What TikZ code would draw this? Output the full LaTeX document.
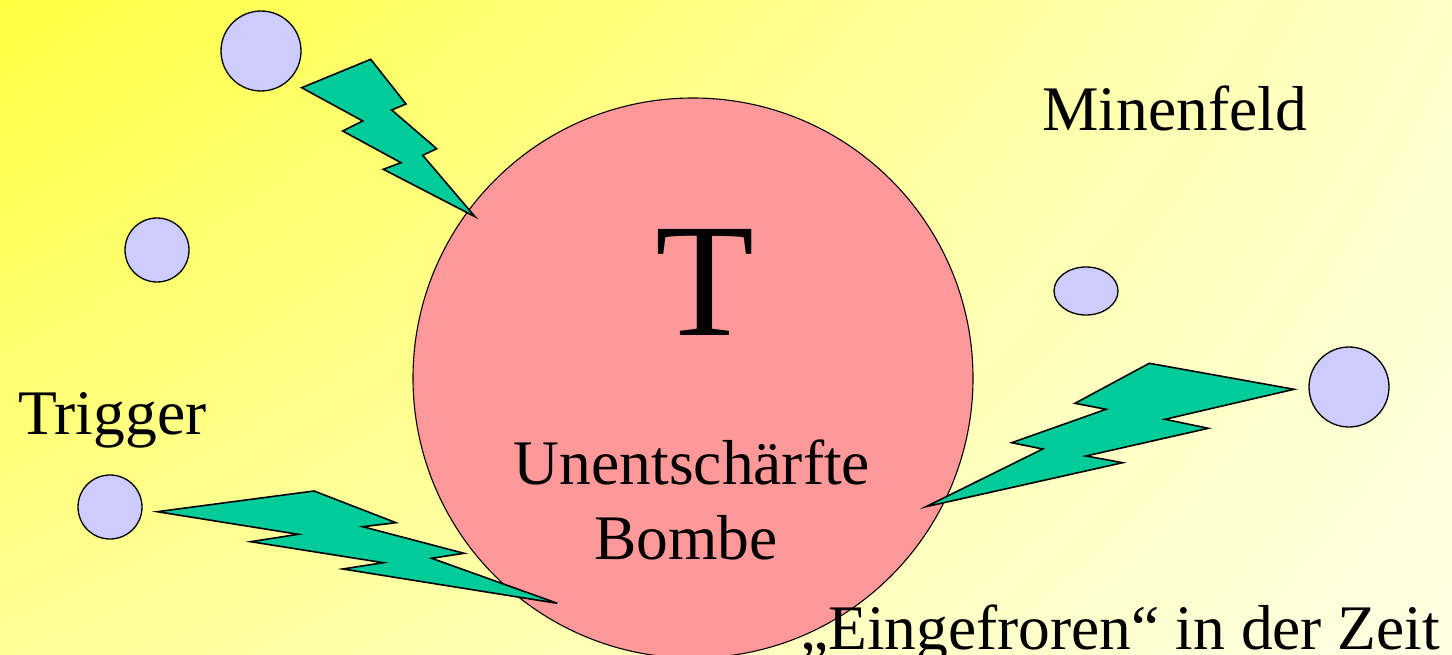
\documentclass[tikz,border=0pt]{standalone}
\usepackage{fontspec}
\usetikzlibrary{shadings}
\setmainfont{Liberation Serif}
\definecolor{bgA}{RGB}{255,255,64}
\definecolor{bgB}{RGB}{255,255,200}
\definecolor{bgC}{RGB}{255,255,150}
\definecolor{bgD}{RGB}{255,255,228}
\definecolor{boltgreen}{RGB}{0,204,153}
\definecolor{bombpink}{RGB}{255,153,153}
\definecolor{minelilac}{RGB}{204,204,255}
\tikzset{
  bolt/.style={fill=boltgreen, draw=black, line width=1.6pt, line join=miter},
  mine/.style={fill=minelilac, draw=black, line width=1.3pt},
  bomb/.style={fill=bombpink, draw=black, line width=1.1pt},
  lbl/.style={inner sep=0pt, font=\fontsize{63.5}{70}\selectfont},
}
\begin{document}
\begin{tikzpicture}[x=1pt,y=-1pt]
\useasboundingbox (0,0) rectangle (1452,655);
\shade[upper left=bgA, upper right=bgB, lower left=bgC, lower right=bgD] (0,0) rectangle (1452,655);
% bomb
\draw[bomb] (693,378) circle[radius=280];
% mines
\draw[mine] (261,51) circle[radius=40];
\draw[mine] (157,250) circle[radius=32];
\draw[mine] (1086,291) ellipse[x radius=32, y radius=24];
\draw[mine] (1349,387) circle[radius=40];
\draw[mine] (110,507) circle[radius=32];
% bolts
\draw[bolt] (301.7,87.7) -- (370.7,59.3) -- (406,104) -- (391.7,110) -- (436.7,148.7) -- (422.7,155.3) -- (475,216.7) -- (383.3,169.3) -- (401,162.7) -- (342.7,131) -- (362.7,121) -- cycle;
\draw[bolt] (157.3,511.7) -- (314,491) -- (396,522.7) -- (362.7,526.7) -- (464,553.3) -- (431.7,558.3) -- (557.3,603.3) -- (342.7,569) -- (383.3,562.7) -- (250.7,541.7) -- (298.3,534.3) -- cycle;
\draw[bolt] (926,506.7) -- (1042.7,449) -- (1011.7,442.7) -- (1106,409.3) -- (1075,403.3) -- (1149.3,363.3) -- (1294,389.3) -- (1165,419.3) -- (1208.3,428.3) -- (1086,456) -- (1122.7,462.7) -- cycle;
% texts
\node[lbl, anchor=base west] (minenfeld) at (1042,131) {Minenfeld};
\node[inner sep=0pt, anchor=base, font=\fontsize{162}{170}\selectfont] (t) at (705,335) {T};
\node[lbl, anchor=base] (unent) at (692,484) {Unentschärfte};
\node[lbl, anchor=base] (bombe) at (686,559) {Bombe};
\node[lbl, anchor=base west] (trigger) at (18,434) {Trigger};
\node[lbl, anchor=base west] (eingef) at (800,649) {„Eingefroren“ in der Zeit};
\end{tikzpicture}
\end{document}
